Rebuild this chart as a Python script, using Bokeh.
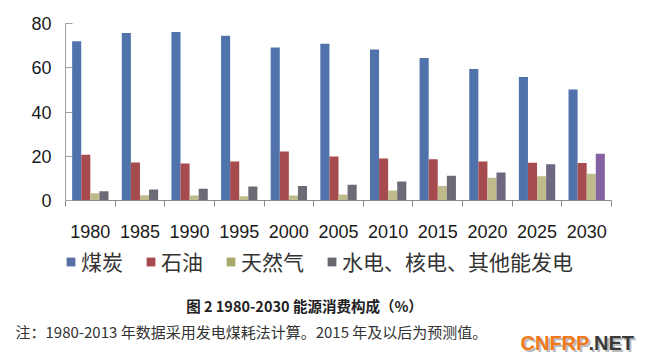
from bokeh.plotting import figure
from bokeh.models import ColumnDataSource, FixedTicker, Range1d, Legend
from bokeh.layouts import column
from bokeh.core.properties import value
from bokeh.transform import dodge
from bokeh.embed import file_html
from bokeh.resources import INLINE

years = ["1980", "1985", "1990", "1995", "2000", "2005", "2010", "2015", "2020", "2025", "2030"]
coal = [72.0, 75.7, 76.2, 74.5, 69.1, 70.9, 68.2, 64.4, 59.4, 55.8, 50.2]
oil = [20.7, 17.2, 16.7, 17.6, 22.2, 19.9, 19.0, 18.7, 17.6, 17.1, 16.9]
gas = [3.3, 2.4, 2.3, 1.9, 2.3, 2.7, 4.5, 6.5, 10.3, 11.0, 12.1]
hydro = [4.2, 5.0, 5.3, 6.3, 6.6, 7.1, 8.6, 11.2, 12.7, 16.4, 21.1]
series_names = ["煤炭", "石油", "天然气", "水电、核电、其他能发电"]
y_ticks = [0, 20, 40, 60, 80]
caption = "图 2 1980-2030 能源消费构成（%）"
note = "注：1980-2013 年数据采用发电煤耗法计算。2015 年及以后为预测值。"
mark_a = "CNFRP"
mark_b = ".NET"

hydro_colors = ["#6C6A74"] * 8 + ["#6F6680", "#6F6680", "#8462A2"]
legend_colors = ["#5A6EA6", "#A84A52", "#A8AA6C", "#6A6670"]

idx = list(range(len(years)))
src = ColumnDataSource(dict(x=idx, coal=coal, oil=oil, gas=gas, hydro=hydro, hc=hydro_colors))

p = figure(width=650, height=245, output_backend="svg", toolbar_location=None,
           x_range=Range1d(-0.5, len(years) - 0.5), y_range=Range1d(0, 80),
           min_border_left=65, min_border_right=39, min_border_top=23, min_border_bottom=45)
p.outline_line_color = None
p.xgrid.grid_line_color = None
p.ygrid.grid_line_color = None
p.background_fill_color = "white"
p.border_fill_color = "white"

bw = 0.183
offs = [-1.5 * bw, -0.5 * bw, 0.5 * bw, 1.5 * bw]
cols = ["coal", "oil", "gas", "hydro"]
colors = ["#4F73AA", "#A64B4E", "#BFBB8C", "hc"]
for c, o, col in zip(cols, offs, colors):
    p.vbar(x=dodge("x", o), top=c, width=bw, bottom=0, source=src,
           fill_color=col, line_color=None)

# axes
p.xaxis.ticker = FixedTicker(ticks=idx, minor_ticks=[i - 0.5 for i in range(len(years) + 1)])
p.xaxis.major_label_overrides = {i: y for i, y in zip(idx, years)}
p.xaxis.major_tick_line_color = None
p.xaxis.major_tick_out = 0
p.xaxis.major_tick_in = 0
p.xaxis.minor_tick_line_color = "#8A8A8A"
p.xaxis.minor_tick_out = 6
p.xaxis.minor_tick_in = 0
p.xaxis.axis_line_color = "#8A8A8A"
p.xaxis.major_label_text_font = "Liberation Sans"
p.xaxis.major_label_text_font_size = "18px"
p.xaxis.major_label_text_color = "#1a1a1a"
p.xaxis.major_label_standoff = 18

p.yaxis.ticker = FixedTicker(ticks=y_ticks)
p.yaxis.minor_tick_line_color = None
p.yaxis.major_tick_in = 7
p.yaxis.major_tick_out = 0
p.yaxis.major_tick_line_color = "#A0A0A0"
p.yaxis.axis_line_color = "#A0A0A0"
p.yaxis.major_label_text_font = "Liberation Sans"
p.yaxis.major_label_text_font_size = "18px"
p.yaxis.major_label_text_color = "#1a1a1a"
p.yaxis.major_label_standoff = 14

# lower panel: legend + captions
q = figure(width=650, height=114, output_backend="svg", toolbar_location=None,
           x_range=Range1d(0, 650), y_range=Range1d(0, 114),
           x_axis_type=None, y_axis_type=None, min_border=0)
if "frame_align" in q.properties():
    q.frame_align = False
q.outline_line_color = None
q.xgrid.grid_line_color = None
q.ygrid.grid_line_color = None
q.border_fill_color = "white"

# legend swatches come from the same series, drawn on a hidden range
q.extra_x_ranges = {"hid": Range1d(-0.5, len(years) - 0.5)}
q.extra_y_ranges = {"hid": Range1d(1000, 2000)}
items = []
for name, c, lc in zip(series_names, cols, legend_colors):
    r = q.vbar(x="x", top=c, width=0.5, source=src, fill_color=lc, line_color=None,
               x_range_name="hid", y_range_name="hid")
    items.append((name, [r]))
lg = Legend(items=items, orientation="horizontal", location=(65, 83),
            padding=0, margin=0, spacing=22, label_standoff=5,
            glyph_width=11, glyph_height=11, border_line_color=None,
            background_fill_alpha=0, label_text_font="Noto Sans CJK SC",
            label_text_font_size="21px", label_text_color="#333333")
q.add_layout(lg)

q.text(x=[304], y=[54], text=[caption], text_align="center", text_baseline="middle",
       text_font=value("Noto Sans CJK SC"), text_font_size="14.5px", text_font_style="bold",
       text_color="#222222")
q.text(x=[15], y=[28], text=[note], text_align="left", text_baseline="middle",
       text_font=value("Noto Sans CJK SC"), text_font_size="15px", text_color="#333333")
for txt, xx, colr in [(mark_a, 520, "#F07818"), (mark_b, 588, "#3A3A3A")]:
    q.text(x=[xx + 2], y=[15], text=[txt], text_align="left", text_baseline="middle",
           text_font=value("Liberation Sans"), text_font_size="20px", text_font_style="bold",
           text_color="#BBBBBB")
    q.text(x=[xx], y=[17], text=[txt], text_align="left", text_baseline="middle",
           text_font=value("Liberation Sans"), text_font_size="20px", text_font_style="bold",
           text_color=colr)

layout = column(p, q, spacing=0)
open("out.html", "w").write(file_html(layout, INLINE))
